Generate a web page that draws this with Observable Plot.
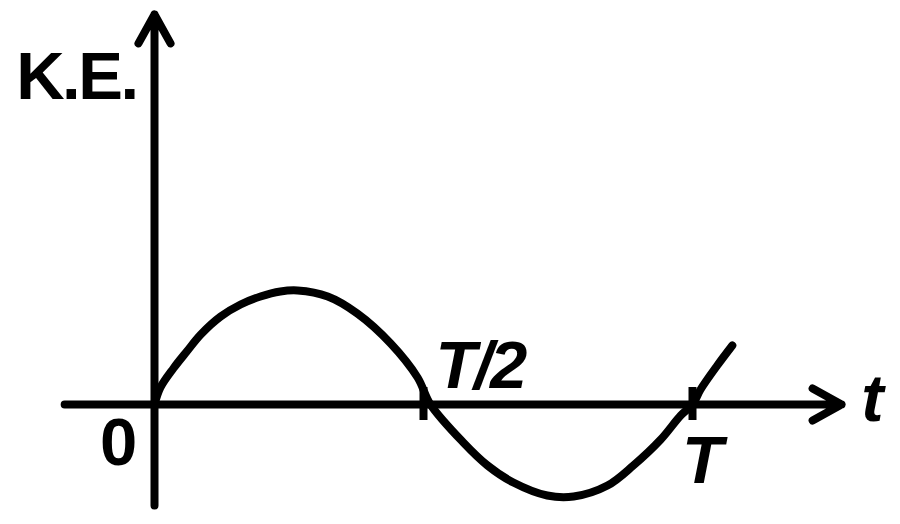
<!DOCTYPE html>
<html>
<head>
<meta charset="utf-8">
<script src="https://cdn.jsdelivr.net/npm/d3@7"></script>
<script src="https://cdn.jsdelivr.net/npm/@observablehq/plot@0.6"></script>
<style>
  html, body { margin: 0; padding: 0; background: #fff; }
  #chart svg { display: block; }
</style>
</head>
<body>
<div id="chart"></div>
<script>
// Curve: time in units of T, K.E. in arbitrary units
const curveT  = [0, 0.011, 0.035, 0.060, 0.086, 0.123, 0.160, 0.197, 0.234, 0.266, 0.322, 0.377,
                 0.439, 0.489, 0.513,
                 0.574, 0.619, 0.667, 0.730, 0.779, 0.842, 0.890, 0.941, 0.978, 1.000,
                 1.015, 1.046, 1.074];
const curveKE = [0, 0.17, 0.36, 0.53, 0.70, 0.88, 1.00, 1.08, 1.13, 1.14, 1.08, 0.91,
                 0.61, 0.27, 0,
                 -0.38, -0.61, -0.78, -0.91, -0.92, -0.81, -0.61, -0.35, -0.11, 0,
                 0.15, 0.39, 0.59];

// Tick marks on the time axis
const tickT = [0.5, 1];
const tickLabels = ["T/2", "T"];

// Axis extents (data units)
const tAxisExtent = [-0.167, 1.277];
const keAxisExtent = [-1.01, 3.9];

// Labels
const xLabel = "t";
const yLabel = "K.E.";
const originLabel = "0";

const curve = curveT.map((t, i) => ({t, ke: curveKE[i]}));
const axes = [
  {x1: tAxisExtent[0], x2: tAxisExtent[1], y1: 0, y2: 0},
  {x1: 0, x2: 0, y1: keAxisExtent[0], y2: keAxisExtent[1]}
];

const font = {fontFamily: "'Liberation Sans', Arial, sans-serif", fontWeight: "bold", fontSize: 67, fill: "black"};

const chart = Plot.plot({
  width: 900,
  height: 524,
  margin: 0,
  style: {background: "white"},
  x: {domain: [0, 1], range: [154, 692], axis: null},
  y: {domain: [0, 1], range: [404, 304], axis: null},
  marks: [
    Plot.arrow(axes, {x1: "x1", y1: "y1", x2: "x2", y2: "y2", stroke: "black", strokeWidth: 8,
      headLength: 6.2, headAngle: 58, strokeLinecap: "round", strokeLinejoin: "round"}),
    Plot.ruleX(tickT, {x: d => d, y1: -0.16, y2: 0.17, stroke: "black", strokeWidth: 8}),
    Plot.line(curve, {x: "t", y: "ke", curve: "catmull-rom", stroke: "black", strokeWidth: 8,
      strokeLinecap: "round", strokeLinejoin: "round"}),
    Plot.text([yLabel], {x: 0, y: keAxisExtent[1], text: d => d, dx: -18, dy: 84, textAnchor: "end",
      lineAnchor: "bottom", ...font}),
    Plot.text([originLabel], {x: 0, y: 0, text: d => d, dx: -36, dy: 60, textAnchor: "middle",
      lineAnchor: "bottom", ...font}),
    Plot.text([tickLabels[0]], {x: tickT[0], y: 0, text: d => d, dx: 12, dy: -17, textAnchor: "start",
      lineAnchor: "bottom", ...font, fontStyle: "italic"}),
    Plot.text([tickLabels[1]], {x: tickT[1], y: 0, text: d => d, dx: 10, dy: 78, textAnchor: "middle",
      lineAnchor: "bottom", ...font, fontStyle: "italic"}),
    Plot.text([xLabel], {x: tAxisExtent[1], y: 0, text: d => d, dx: 31, dy: 16, textAnchor: "middle",
      lineAnchor: "bottom", ...font, fontStyle: "italic"})
  ]
});
// Slightly tighter letter spacing, as in the original lettering
d3.select(chart).selectAll("text").each(function() {
  const s = this.textContent;
  if (s === yLabel) this.style.letterSpacing = "-2.5px";
  if (s === tickLabels[0]) this.style.letterSpacing = "-2.5px";
});
document.getElementById("chart").append(chart);
</script>
</body>
</html>
